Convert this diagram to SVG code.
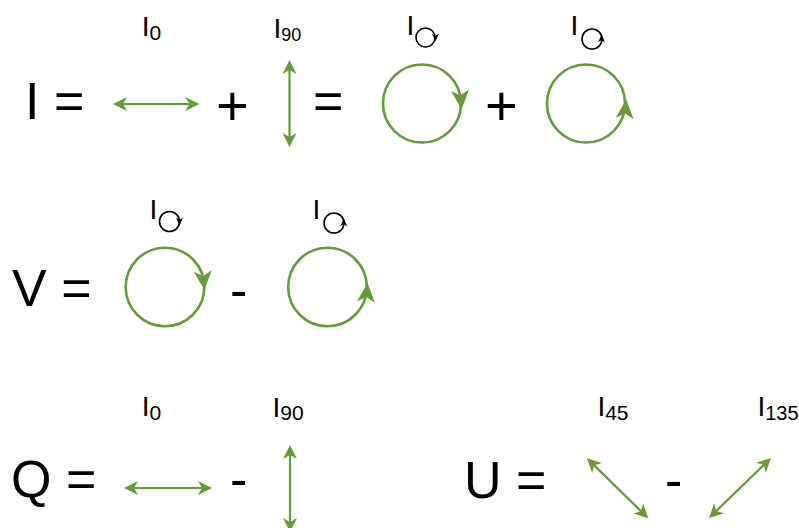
<svg xmlns="http://www.w3.org/2000/svg" xmlns:xlink="http://www.w3.org/1999/xlink" width="799" height="528" viewBox="0 0 799 528">
<style>
text{font-family:"Liberation Sans",Arial,Helvetica,sans-serif;fill:#000}
.big{font-size:52px}
.plus{font-size:56px}
.lbl{font-size:28px}
.sub{font-size:21px}
.gl{fill:none;stroke:#669c37;stroke-width:2.2;marker-start:url(#ah);marker-end:url(#ah)}
.gc{fill:none;stroke:#669c37;stroke-width:2.6}
.bc{fill:none;stroke:#000;stroke-width:1.6}
.gh{fill:#669c37}
.bh{fill:#000}
</style>
<defs>
<marker id="ah" viewBox="0 0 14 14" markerWidth="14" markerHeight="14" markerUnits="userSpaceOnUse" refX="10" refY="7" orient="auto-start-reverse">
<path d="M0,0 L14,7 L0,14 L4,7 Z" fill="#669c37"/>
</marker>
<path id="bigHead" d="M0,0 L-9,-19 L0,-14 L9,-19 Z"/>
<path id="smallHead" d="M0,0 L-3.5,-8 L0,-5.5 L3.5,-8 Z"/>
</defs>

<!-- Row 1: I -->
<g id="eqI">
<text class="big" x="25" y="119">I =</text>
<text class="plus" x="216" y="125">+</text>
<text class="big" x="313" y="119">=</text>
<text class="plus" x="485" y="125">+</text>
</g>
<g id="I0-term">
<text class="lbl" x="141.7" y="36">I<tspan class="sub" dy="4">0</tspan></text>
</g>
<g id="I90-term">
<text class="lbl" x="273.4" y="38">I<tspan style="font-size:18px" dy="3">90</tspan></text>
</g>
<g id="Icw-term">
<text class="lbl" x="406.4" y="35">I</text>
<circle class="bc" cx="425.5" cy="37.5" r="9.5"/>
<use xlink:href="#smallHead" class="bh" transform="translate(435.5,41.5)"/>
<circle class="gc" cx="422" cy="103.5" r="39"/>
<use xlink:href="#bigHead" class="gh" transform="translate(461.7,109.3) rotate(-5)"/>
</g>
<g id="Iccw-term">
<text class="lbl" x="570.5" y="35">I</text>
<circle class="bc" cx="592" cy="39" r="10"/>
<use xlink:href="#smallHead" class="bh" transform="translate(601.8,34.5) rotate(182)"/>
<circle class="gc" cx="586" cy="103.5" r="39"/>
<use xlink:href="#bigHead" class="gh" transform="translate(626.3,99.5) rotate(185)"/>
</g>

<!-- Row 2: V -->
<g id="eqV">
<text class="big" x="12" y="306">V =</text>
<text class="big" x="230" y="308">-</text>
</g>
<g id="Vcw-term">
<text class="lbl" x="149.5" y="219">I</text>
<circle class="bc" cx="169.5" cy="221.5" r="10"/>
<use xlink:href="#smallHead" class="bh" transform="translate(179.5,225.5)"/>
<circle class="gc" cx="165" cy="287" r="39.3"/>
<use xlink:href="#bigHead" class="gh" transform="translate(204.4,290) rotate(-5)"/>
</g>
<g id="Vccw-term">
<text class="lbl" x="312.5" y="219">I</text>
<circle class="bc" cx="334" cy="223" r="10"/>
<use xlink:href="#smallHead" class="bh" transform="translate(344,218.5) rotate(182)"/>
<circle class="gc" cx="327.5" cy="287" r="39.3"/>
<use xlink:href="#bigHead" class="gh" transform="translate(367.6,283) rotate(185)"/>
</g>

<!-- Row 3: Q -->
<g id="eqQ">
<text class="big" x="11" y="497">Q =</text>
<text class="big" x="230" y="497">-</text>
</g>
<g id="Q0-term">
<text class="lbl" x="141.7" y="416">I<tspan class="sub" dy="3.5">0</tspan></text>
</g>
<g id="Q90-term">
<text class="lbl" x="272.5" y="417">I<tspan class="sub" dy="3">90</tspan></text>
</g>

<!-- Row 3: U -->
<g id="eqU">
<text class="big" x="464" y="498">U =</text>
<text class="big" x="665" y="498">-</text>
</g>
<g id="U45-term">
<text class="lbl" x="597.4" y="416">I<tspan class="sub" dy="3.5">45</tspan></text>
</g>
<g id="U135-term">
<text class="lbl" x="757.4" y="416">I<tspan style="font-size:20px" dy="3.5">135</tspan></text>
</g>

<!-- connectors / polarization arrows -->
<g id="connectors">
<line class="gl" x1="117" y1="104" x2="195.3" y2="104"/>
<line class="gl" x1="289.5" y1="64" x2="289.5" y2="143"/>
<line class="gl" x1="128" y1="488" x2="208" y2="488"/>
<line class="gl" x1="290" y1="449" x2="290" y2="528"/>
<line class="gl" x1="589.9" y1="461.1" x2="645.4" y2="515.5"/>
<line class="gl" x1="768.1" y1="460.8" x2="711.9" y2="515.2"/>
</g>
</svg>
